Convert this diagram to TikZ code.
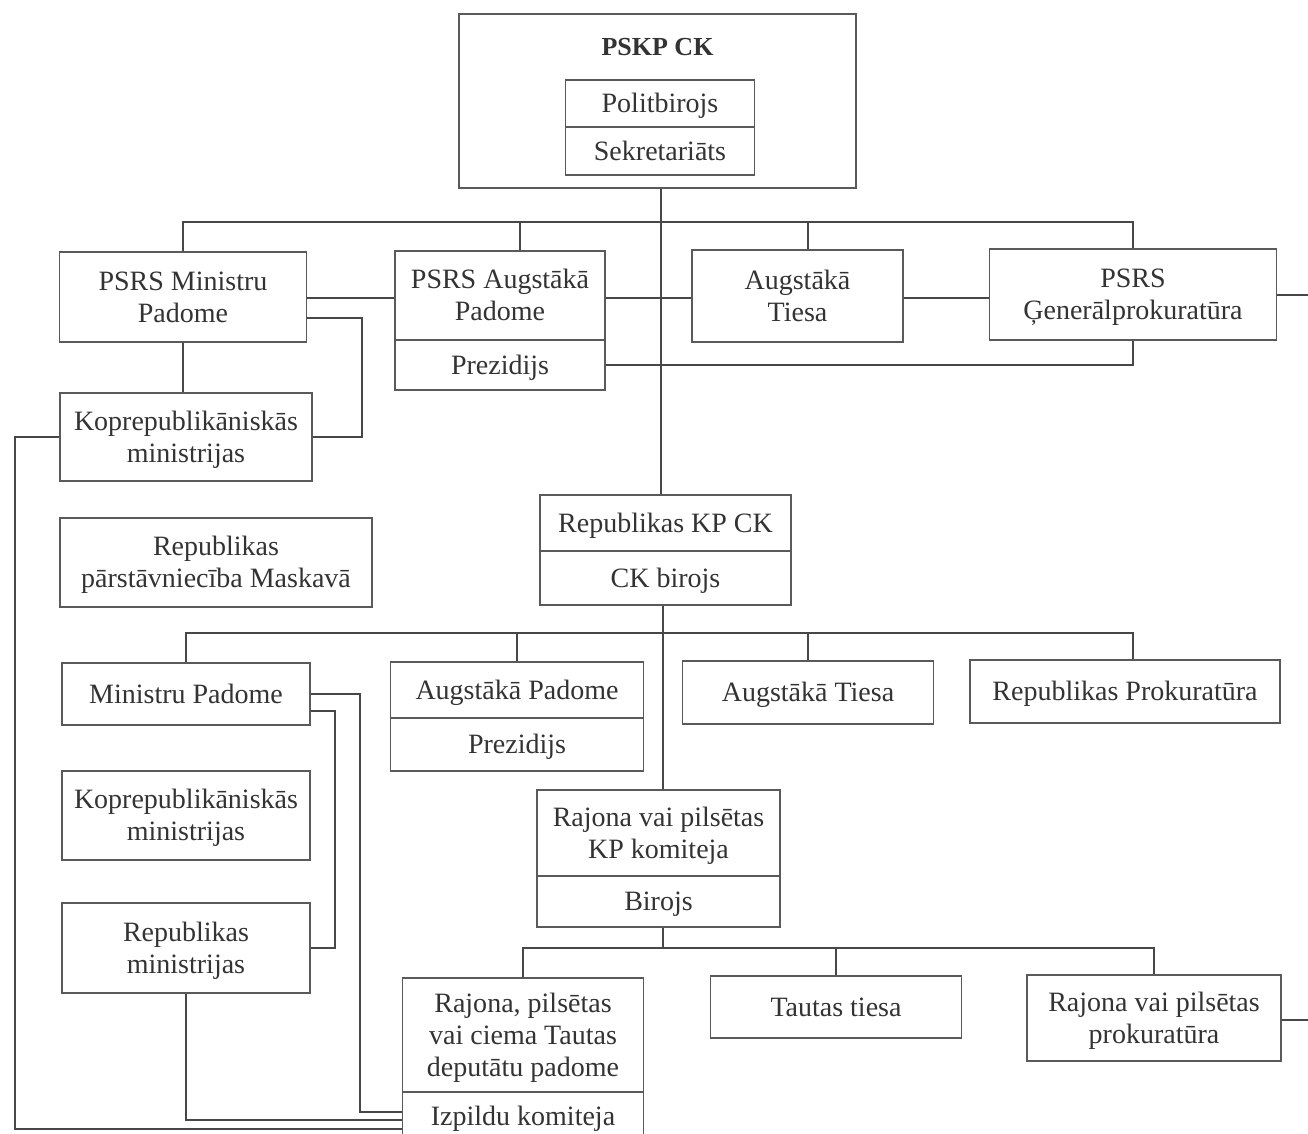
\documentclass[tikz,border=0pt]{standalone}
\usepackage{fontspec}
\setmainfont{Liberation Serif}
\definecolor{boxc}{HTML}{5A5A5A}
\definecolor{linec}{HTML}{474747}
\definecolor{txt}{HTML}{333333}
\newcommand{\tx}[1]{\raisebox{-3pt}[\height][\depth]{\begin{tabular}{@{}c@{}}#1\end{tabular}}}
\tikzset{
  box/.style={draw=boxc, line width=1.8pt, fill=white, align=center, inner sep=0pt,
    text=txt, font=\fontsize{28}{32}\selectfont},
  conn/.style={draw=linec, line width=1.6pt},
}
\begin{document}
\begin{tikzpicture}[x=1pt,y=-1pt]
\clip (0,0) rectangle (1308,1133);
\fill[white] (0,0) rectangle (1308,1133);

% top
\node[box, minimum width=397pt, minimum height=174pt] (pskp) at (657.5,101) {};
\node[text=txt, font=\fontsize{26}{32}\selectfont\bfseries] (pskpt) at (657.5,47) {PSKP CK};
\node[box, minimum width=189pt, minimum height=47pt] (polit) at (660,103.5) {\tx{Politbirojs}};
\node[box, minimum width=189pt, minimum height=48pt] (sekr) at (660,151) {\tx{Sekretariāts}};

% row 1
\node[box, minimum width=247pt, minimum height=90pt] (psrsmp) at (183,297) {\tx{PSRS Ministru\\Padome}};
\node[box, minimum width=210pt, minimum height=89pt] (psrsap) at (500,295.5) {\tx{PSRS Augstākā\\Padome}};
\node[box, minimum width=210pt, minimum height=50pt] (psrsapP) at (500,365) {\tx{Prezidijs}};
\node[box, minimum width=211pt, minimum height=92pt] (at1) at (797.5,296) {\tx{Augstākā\\Tiesa}};
\node[box, minimum width=287pt, minimum height=91pt] (genp) at (1133,294.5) {\tx{PSRS\\Ģenerālprokuratūra}};
\node[box, minimum width=252pt, minimum height=88pt] (kop1) at (186,437) {\tx{Koprepublikāniskās\\ministrijas}};
\node[box, minimum width=312pt, minimum height=89pt] (rpm) at (216,562.5) {\tx{Republikas\\pārstāvniecība Maskavā}};

% republic
\node[box, minimum width=251pt, minimum height=56pt] (rkpck) at (665.5,523) {\tx{Republikas KP CK}};
\node[box, minimum width=251pt, minimum height=54pt] (ckb) at (665.5,578) {\tx{CK birojs}};

% row 2
\node[box, minimum width=248pt, minimum height=62pt] (mp) at (186,694) {\tx{Ministru Padome}};
\node[box, minimum width=253pt, minimum height=56pt] (ap) at (517,690) {\tx{Augstākā Padome}};
\node[box, minimum width=253pt, minimum height=53pt] (apP) at (517,744.5) {\tx{Prezidijs}};
\node[box, minimum width=251pt, minimum height=63pt] (at2) at (808,692.5) {\tx{Augstākā Tiesa}};
\node[box, minimum width=310pt, minimum height=63pt] (rprok) at (1125,691.5) {\tx{Republikas Prokuratūra}};
\node[box, minimum width=248pt, minimum height=89pt] (kop2) at (186,815.5) {\tx{Koprepublikāniskās\\ministrijas}};
\node[box, minimum width=248pt, minimum height=90pt] (repmin) at (186,948) {\tx{Republikas\\ministrijas}};

% district
\node[box, minimum width=243pt, minimum height=86pt] (rkp) at (658.5,833) {\tx{Rajona vai pilsētas\\KP komiteja}};
\node[box, minimum width=243pt, minimum height=51pt] (birojs) at (658.5,901.5) {\tx{Birojs}};

% row 3
\node[box, minimum width=241pt, minimum height=114pt] (rpad) at (523,1035) {\tx{Rajona, pilsētas\\vai ciema Tautas\\deputātu padome}};
\node[box, minimum width=241pt, minimum height=48pt] (izp) at (523,1116) {\tx{Izpildu komiteja}};
\node[box, minimum width=251pt, minimum height=62pt] (tt) at (836,1007) {\tx{Tautas tiesa}};
\node[box, minimum width=254pt, minimum height=86pt] (rvpp) at (1154,1018) {\tx{Rajona vai pilsētas\\prokuratūra}};

% coordinates
\coordinate (sp) at (661,0);
\coordinate (sp2) at (663,0);
\coordinate (b1) at (661,222);
\coordinate (br1) at (520,222);
\coordinate (br2) at (808,222);
\coordinate (kc) at (362,437);
\coordinate (redge) at (1308,0);
\coordinate (lA) at (15,1129);
\coordinate (b2) at (1133,633);
\coordinate (c1) at (360,1112);
\coordinate (c2) at (335,948);
\coordinate (c3) at (186,1120);
\coordinate (b3) at (663,948);
\coordinate (h1) at (0,298);
\coordinate (h2) at (0,318);
\coordinate (h3) at (0,711);
\coordinate (h4) at (0,1020);
\coordinate (h5) at (0,295);

% connectors upper
\draw[conn] (sp |- pskp.south) -- (sp |- rkpck.north);
\draw[conn] (psrsmp.north) |- (b1) -| (genp.north);
\draw[conn] (br1) -- (br1 |- psrsap.north);
\draw[conn] (br2) -- (br2 |- at1.north);
\draw[conn] (psrsmp.east |- h1) -- (psrsap.west |- h1);
\draw[conn] (psrsmp.east |- h2) -| (kc) -- (kop1.east);
\draw[conn] (psrsmp.south) -- (psrsmp.south |- kop1.north);
\draw[conn] (psrsap.east |- h1) -- (at1.west |- h1);
\draw[conn] (at1.east |- h1) -- (genp.west |- h1);
\draw[conn] (genp.east |- h5) -- (redge |- h5);
\draw[conn] (psrsapP.east) -| (genp.south);
\draw[conn] (kop1.west) -| (lA) -- (lA -| izp.west);

% connectors middle
\draw[conn] (sp2 |- ckb.south) -- (sp2 |- rkp.north);
\draw[conn] (mp.north) |- (b2) -- (b2 |- rprok.north);
\draw[conn] (ap.north) -- (ap.north |- b2);
\draw[conn] (at2.north) -- (at2.north |- b2);
\draw[conn] (mp.east) -| (c1) -- (c1 -| izp.west);
\draw[conn] (mp.east |- h3) -| (c2) -- (repmin.east);
\draw[conn] (repmin.south) -- (c3) -- (c3 -| izp.west);

% connectors lower
\draw[conn] (sp2 |- birojs.south) -- (b3);
\draw[conn] (rpad.north) |- (b3) -| (rvpp.north);
\draw[conn] (tt.north) -- (tt.north |- b3);
\draw[conn] (rvpp.east |- h4) -- (redge |- h4);
\end{tikzpicture}
\end{document}
